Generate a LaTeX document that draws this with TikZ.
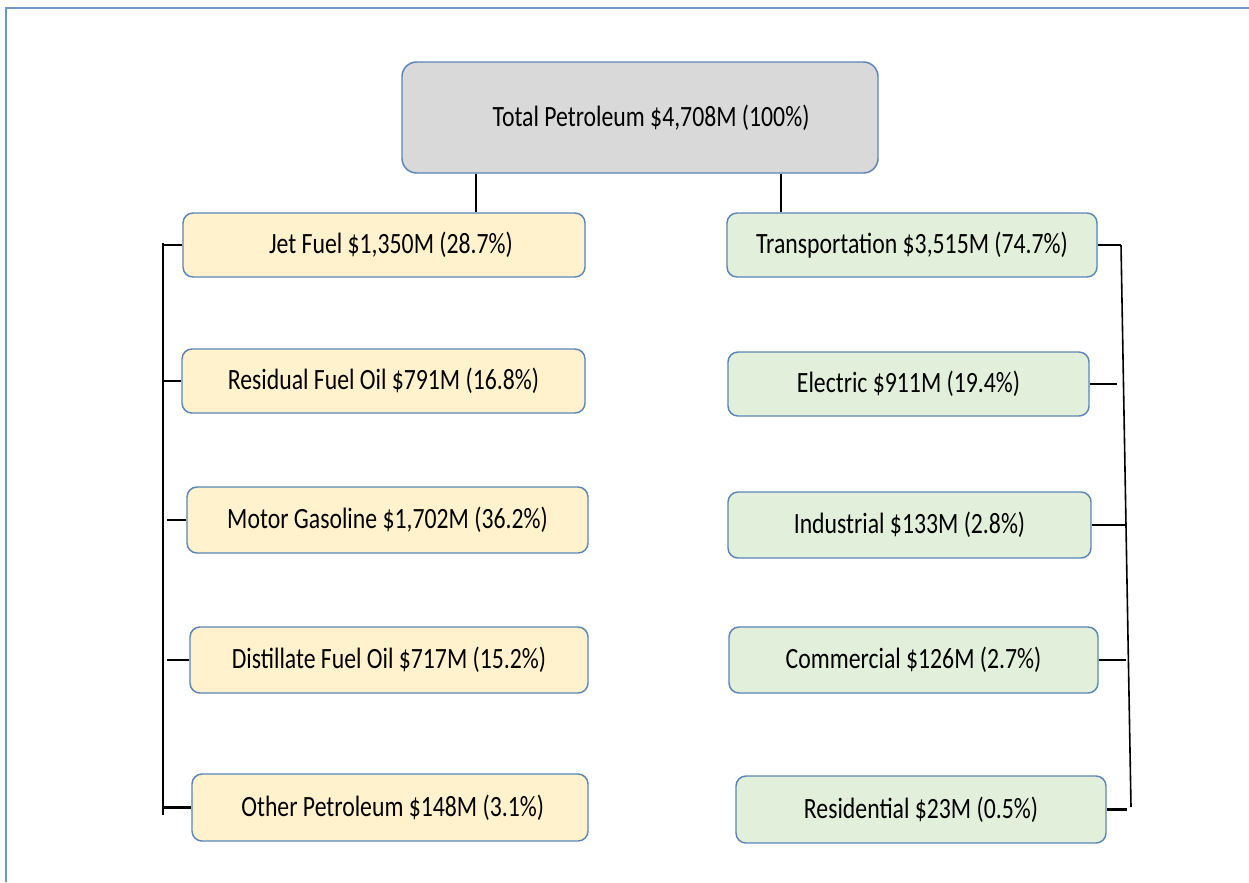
\documentclass[tikz,border=0pt]{standalone}
\usepackage{fontspec}
\setmainfont{Carlito}
\usepackage{graphicx}
\definecolor{frameblue}{HTML}{7096BF}
\definecolor{boxline}{HTML}{5B86B5}
\definecolor{greyfill}{HTML}{D9D9D9}
\definecolor{yellowfill}{HTML}{FFF2CC}
\definecolor{greenfill}{HTML}{E2EFDA}
\newcommand{\lbl}[1]{\scalebox{1}[1.24]{#1}}
\tikzset{
  box/.style 2 args={draw=boxline, line width=1.1pt, rounded corners=7.5pt,
    minimum width=#1*0.75pt, minimum height=#2*0.75pt, inner sep=0pt,
    font=\fontsize{17.8pt}{20pt}\selectfont, text=black},
  yellowbox/.style={fill=yellowfill},
  greenbox/.style={fill=greenfill},
  greybox/.style={fill=greyfill, rounded corners=11pt},
  conn/.style={draw=black, line width=1.7pt},
  thinconn/.style={draw=black, line width=1.2pt},
}
\begin{document}
\begin{tikzpicture}[x=0.75pt, y=-0.75pt]
\useasboundingbox (0,0) rectangle (1249,882);
\fill[white] (0,0) rectangle (1249,882);
\draw[frameblue, line width=1.1pt] (1249,8) -- (6,8) -- (6,882);

\node[box={476}{111}, greybox] (total) at (640,117.5) {\hspace{16.5pt}\lbl{Total Petroleum \$4,708M (100\%)}};

\node[box={402}{64}, yellowbox] (jet) at (384,245) {\hspace{10.5pt}\lbl{Jet Fuel \$1,350M (28.7\%)}};
\node[box={403}{64}, yellowbox] (resid) at (383.5,381) {\lbl{Residual Fuel Oil \$791M (16.8\%)}};
\node[box={401}{66}, yellowbox] (motor) at (387.5,520) {\lbl{Motor Gasoline \$1,702M (36.2\%)}};
\node[box={398}{66}, yellowbox] (dist) at (389,660) {\lbl{Distillate Fuel Oil \$717M (15.2\%)}};
\node[box={396}{67}, yellowbox] (other) at (390,807.5) {\hspace{4pt}\lbl{Other Petroleum \$148M (3.1\%)}};

\node[box={370}{64}, greenbox] (trans) at (912,245) {\lbl{Transportation \$3,515M (74.7\%)}};
\node[box={361}{64}, greenbox] (elec) at (908.5,384) {\lbl{Electric \$911M (19.4\%)}};
\node[box={363}{66}, greenbox] (indus) at (909.5,525) {\lbl{Industrial \$133M (2.8\%)}};
\node[box={369}{66}, greenbox] (comm) at (913.5,660) {\lbl{Commercial \$126M (2.7\%)}};
\node[box={370}{67}, greenbox] (resi) at (921,809.5) {\lbl{Residential \$23M (0.5\%)}};

% top connectors
\coordinate (cl) at (476,0);
\coordinate (cr) at (781,0);
\draw[thinconn] (total.south -| cl) -- (jet.north -| cl);
\draw[thinconn] (total.south -| cr) -- (trans.north -| cr);

% left bus
\coordinate (lbt) at (163,243);
\coordinate (lbb) at (163,815);
\draw[conn] (lbt) -- (lbb);
\draw[conn] (jet.west) -- (jet.west -| lbt);
\draw[conn] (resid.west) -- (resid.west -| lbt);
\draw[conn] (motor.west) -- ++(-19,0);
\draw[conn] (dist.west) -- ++(-22,0);
\draw[conn] (other.west) -- (other.west -| lbb);

% right bus
\coordinate (rbt) at (1121,245);
\coordinate (rbb) at (1131,807);
\draw[conn] (trans.east) -- (rbt);
\draw[thinconn] (rbt) -- (rbb);
\draw[conn] (elec.east) -- ++(27,0);
\draw[conn] (indus.east) -- ++(33,0);
\draw[conn] (comm.east) -- ++(27,0);
\draw[conn] (resi.east) -- ++(20,0);
\end{tikzpicture}
\end{document}
